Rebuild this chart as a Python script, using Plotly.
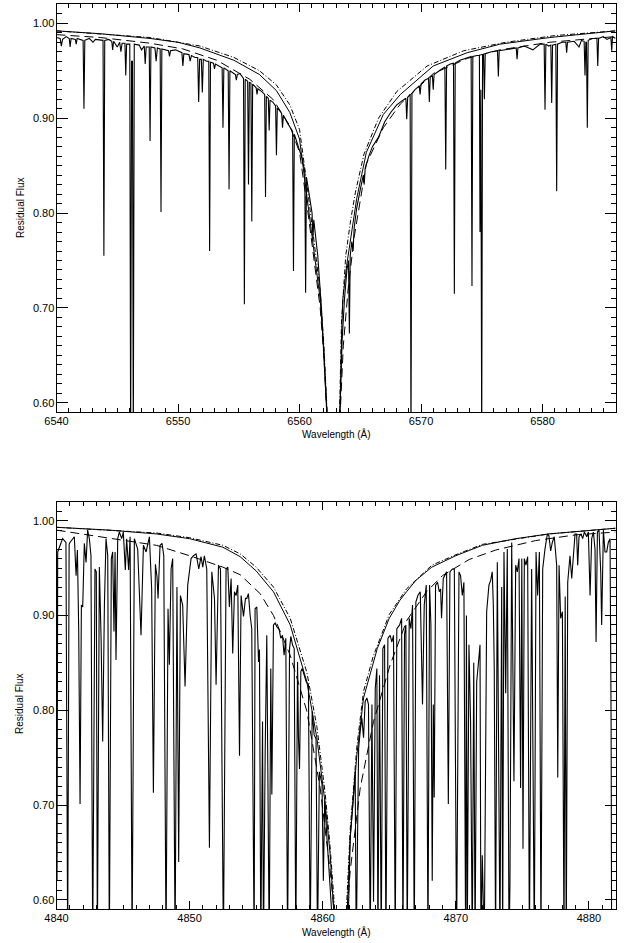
import plotly.graph_objects as go

# ---------------- H-alpha panel data ----------------
ha_obs = [
    (6540.00, 0.985), (6540.30, 0.984), (6540.40, 0.976), (6540.50, 0.983), (6540.80, 0.986),
    (6541.05, 0.984), (6541.12, 0.975), (6541.20, 0.984), (6541.55, 0.983), (6541.62, 0.978),
    (6541.70, 0.984), (6542.05, 0.983), (6542.19, 0.982), (6542.26, 0.910), (6542.33, 0.982),
    (6542.70, 0.984), (6543.00, 0.980), (6543.20, 0.983), (6543.83, 0.982), (6543.90, 0.755),
    (6543.97, 0.982), (6544.30, 0.983), (6544.55, 0.981), (6544.62, 0.972), (6544.70, 0.981),
    (6545.00, 0.975), (6545.20, 0.980), (6545.30, 0.970), (6545.40, 0.979), (6545.63, 0.979),
    (6545.70, 0.945), (6545.77, 0.978), (6546.03, 0.978), (6546.10, 0.550), (6546.18, 0.960),
    (6546.25, 0.960), (6546.32, 0.550), (6546.40, 0.978), (6546.80, 0.977), (6547.00, 0.972),
    (6547.22, 0.976), (6547.30, 0.957), (6547.38, 0.975), (6547.63, 0.975), (6547.70, 0.876),
    (6547.77, 0.975), (6548.10, 0.974), (6548.20, 0.960), (6548.30, 0.974), (6548.53, 0.973),
    (6548.60, 0.801), (6548.67, 0.973), (6549.00, 0.972), (6549.22, 0.971), (6549.30, 0.965),
    (6549.38, 0.971), (6549.80, 0.972), (6550.32, 0.969), (6550.40, 0.955), (6550.48, 0.968),
    (6550.90, 0.967), (6551.00, 0.960), (6551.10, 0.966), (6551.40, 0.964), (6551.62, 0.964),
    (6551.70, 0.917), (6551.78, 0.962), (6551.92, 0.962), (6552.00, 0.927), (6552.08, 0.962),
    (6552.35, 0.960), (6552.53, 0.960), (6552.60, 0.760), (6552.67, 0.959), (6552.92, 0.958),
    (6553.00, 0.952), (6553.08, 0.957), (6553.40, 0.955), (6553.63, 0.953), (6553.70, 0.890),
    (6553.77, 0.953), (6554.00, 0.951), (6554.13, 0.950), (6554.20, 0.825), (6554.27, 0.950),
    (6554.72, 0.946), (6554.80, 0.940), (6554.88, 0.946), (6555.10, 0.947), (6555.39, 0.942),
    (6555.46, 0.704), (6555.53, 0.941), (6555.73, 0.939), (6555.80, 0.830), (6555.87, 0.938),
    (6556.00, 0.937), (6556.07, 0.791), (6556.14, 0.936), (6556.43, 0.932), (6556.50, 0.925),
    (6556.57, 0.931), (6556.90, 0.928), (6557.13, 0.925), (6557.20, 0.817), (6557.27, 0.923),
    (6557.43, 0.921), (6557.50, 0.887), (6557.57, 0.919), (6557.80, 0.917), (6558.03, 0.913),
    (6558.10, 0.861), (6558.17, 0.911), (6558.53, 0.905), (6558.60, 0.890), (6558.67, 0.903),
    (6559.00, 0.895), (6559.43, 0.886), (6559.50, 0.739), (6559.57, 0.883), (6559.90, 0.870),
    (6560.20, 0.858), (6560.43, 0.844), (6560.50, 0.716), (6560.57, 0.838), (6560.80, 0.820),
    (6561.03, 0.800), (6561.10, 0.773), (6561.17, 0.793), (6561.50, 0.755), (6561.80, 0.700),
    (6562.00, 0.650), (6562.25, 0.580), (6562.40, 0.550), (6562.80, 0.450), (6563.20, 0.550),
    (6563.30, 0.580), (6563.50, 0.665), (6563.70, 0.710), (6563.90, 0.740), (6564.03, 0.750),
    (6564.10, 0.673), (6564.17, 0.755), (6564.30, 0.770), (6564.40, 0.760), (6564.50, 0.785),
    (6564.70, 0.805), (6565.00, 0.825), (6565.25, 0.840), (6565.32, 0.830), (6565.40, 0.847),
    (6565.70, 0.860), (6566.00, 0.870), (6566.50, 0.880), (6567.00, 0.896), (6567.50, 0.906),
    (6568.00, 0.914), (6568.40, 0.918), (6568.75, 0.921), (6568.82, 0.899), (6568.90, 0.922),
    (6569.10, 0.925), (6569.17, 0.550), (6569.25, 0.926), (6569.50, 0.930), (6569.85, 0.934),
    (6569.92, 0.925), (6570.00, 0.936), (6570.30, 0.940), (6570.61, 0.942), (6570.68, 0.917),
    (6570.75, 0.943), (6570.93, 0.945), (6571.00, 0.930), (6571.07, 0.946), (6571.50, 0.950),
    (6571.96, 0.954), (6572.03, 0.846), (6572.10, 0.955), (6572.40, 0.957), (6572.67, 0.958),
    (6572.74, 0.715), (6572.81, 0.958), (6573.20, 0.961), (6573.60, 0.963), (6574.12, 0.965),
    (6574.19, 0.723), (6574.26, 0.965), (6574.60, 0.966), (6574.80, 0.966), (6574.85, 0.780),
    (6574.92, 0.930), (6574.99, 0.550), (6575.06, 0.967), (6575.14, 0.967), (6575.21, 0.920),
    (6575.28, 0.968), (6575.80, 0.970), (6576.29, 0.971), (6576.36, 0.944), (6576.43, 0.971),
    (6577.00, 0.972), (6577.83, 0.974), (6577.90, 0.962), (6577.97, 0.974), (6578.50, 0.976),
    (6579.20, 0.972), (6579.80, 0.978), (6580.13, 0.978), (6580.20, 0.909), (6580.27, 0.978),
    (6580.50, 0.976), (6580.68, 0.977), (6580.75, 0.916), (6580.82, 0.977), (6581.09, 0.978),
    (6581.16, 0.823), (6581.23, 0.978), (6581.60, 0.980), (6581.91, 0.980), (6581.98, 0.969),
    (6582.05, 0.980), (6582.60, 0.981), (6583.00, 0.975), (6583.20, 0.982), (6583.42, 0.981),
    (6583.49, 0.945), (6583.56, 0.980), (6583.61, 0.980), (6583.68, 0.890), (6583.75, 0.982),
    (6584.10, 0.984), (6584.47, 0.984), (6584.54, 0.955), (6584.61, 0.984), (6585.00, 0.986),
    (6585.30, 0.983), (6585.62, 0.985), (6585.69, 0.971), (6585.76, 0.986), (6586.00, 0.984),
]

ha_solid_wave = [6540, 6543.6, 6547.7, 6550, 6551.8, 6553.5, 6554.6, 6556.7, 6558.1, 6559.2,
                 6560.0, 6560.6, 6561.2, 6561.7, 6562.0, 6562.2, 6562.4, 6562.8, 6563.15, 6563.33,
                 6563.47, 6563.56, 6563.88, 6564.3, 6564.7, 6565.5, 6566.9, 6568.3, 6571.0,
                 6573.8, 6576.5, 6580.6, 6583.5, 6586]
ha_solid_flux = [0.992, 0.989, 0.984, 0.980, 0.974, 0.966, 0.961, 0.946, 0.929, 0.906,
                 0.878, 0.818, 0.760, 0.709, 0.655, 0.605, 0.550, 0.450, 0.550, 0.590,
                 0.675, 0.709, 0.745, 0.780, 0.815, 0.864, 0.904, 0.925, 0.955,
                 0.969, 0.978, 0.985, 0.989, 0.992]

ha_dash_wave = [6540, 6543.6, 6547.7, 6550.4, 6553.2, 6555.9, 6557.8, 6559.2, 6560.0, 6560.6,
                6561.2, 6561.7, 6562.0, 6562.2, 6562.4, 6562.8, 6563.15, 6563.35, 6563.6, 6564.0,
                6564.5, 6565.5, 6566.9, 6568.3, 6571.0, 6573.8, 6576.5, 6580.6, 6586]
ha_dash_flux = [0.988, 0.985, 0.979, 0.973, 0.961, 0.941, 0.920, 0.892, 0.864, 0.810,
                0.750, 0.700, 0.650, 0.600, 0.550, 0.450, 0.550, 0.590, 0.660, 0.720,
                0.775, 0.852, 0.890, 0.915, 0.947, 0.963, 0.972, 0.980, 0.986]

ha_dot_wave = [6540, 6547.7, 6551.8, 6554.6, 6556.7, 6558.1, 6559.2, 6560.0, 6560.6, 6561.2,
               6561.7, 6562.0, 6562.22, 6562.42, 6562.8, 6563.12, 6563.3, 6563.45, 6563.8, 6564.2,
               6564.6, 6565.3, 6566.5, 6568.0, 6570.5, 6573.5, 6577, 6581, 6586]
ha_dot_flux = [0.992, 0.985, 0.976, 0.964, 0.950, 0.935, 0.914, 0.888, 0.831, 0.772,
               0.718, 0.662, 0.600, 0.550, 0.450, 0.550, 0.595, 0.685, 0.755, 0.792,
               0.822, 0.862, 0.900, 0.928, 0.955, 0.971, 0.980, 0.987, 0.992]

# ---------------- H-beta panel data ----------------
hb_obs = [
    (4840.00, 0.965), (4840.04, 0.620), (4840.09, 0.967), (4840.30, 0.975), (4840.46, 0.981),
    (4840.71, 0.977), (4840.84, 0.550), (4840.95, 0.975), (4841.01, 0.977), (4841.34, 0.983),
    (4841.47, 0.942), (4841.57, 0.969), (4841.67, 0.883), (4841.77, 0.701), (4841.87, 0.911),
    (4841.97, 0.909), (4842.09, 0.976), (4842.22, 0.956), (4842.34, 0.990), (4842.47, 0.981),
    (4842.59, 0.963), (4842.72, 0.550), (4842.89, 0.949), (4842.99, 0.946), (4843.07, 0.550),
    (4843.22, 0.951), (4843.35, 0.876), (4843.47, 0.767), (4843.60, 0.911), (4843.72, 0.981),
    (4843.85, 0.963), (4843.97, 0.550), (4844.12, 0.960), (4844.22, 0.967), (4844.32, 0.883),
    (4844.40, 0.967), (4844.47, 0.853), (4844.60, 0.981), (4844.72, 0.988), (4844.90, 0.981),
    (4845.02, 0.988), (4845.17, 0.948), (4845.27, 0.981), (4845.42, 0.948), (4845.53, 0.983),
    (4845.68, 0.550), (4845.85, 0.981), (4846.10, 0.970), (4846.35, 0.879), (4846.53, 0.974),
    (4846.73, 0.967), (4846.98, 0.983), (4847.15, 0.928), (4847.28, 0.713), (4847.43, 0.954),
    (4847.55, 0.941), (4847.63, 0.918), (4847.78, 0.974), (4847.93, 0.976), (4848.06, 0.963),
    (4848.23, 0.550), (4848.38, 0.907), (4848.48, 0.848), (4848.61, 0.949), (4848.73, 0.960),
    (4848.91, 0.550), (4849.05, 0.930), (4849.18, 0.640), (4849.31, 0.921), (4849.48, 0.911),
    (4849.66, 0.825), (4849.86, 0.932), (4850.11, 0.960), (4850.29, 0.963), (4850.49, 0.965),
    (4850.69, 0.949), (4850.86, 0.962), (4850.99, 0.951), (4851.11, 0.963), (4851.29, 0.949),
    (4851.49, 0.655), (4851.67, 0.946), (4851.87, 0.918), (4851.99, 0.827), (4852.17, 0.953),
    (4852.32, 0.949), (4852.54, 0.550), (4852.74, 0.949), (4852.87, 0.951), (4852.99, 0.909),
    (4853.12, 0.939), (4853.24, 0.860), (4853.37, 0.925), (4853.49, 0.921), (4853.62, 0.932),
    (4853.75, 0.752), (4853.87, 0.921), (4854.05, 0.899), (4854.20, 0.918), (4854.30, 0.918),
    (4854.42, 0.923), (4854.55, 0.900), (4854.67, 0.886), (4854.85, 0.550), (4854.92, 0.907),
    (4855.05, 0.909), (4855.18, 0.851), (4855.25, 0.864), (4855.35, 0.550), (4855.48, 0.788),
    (4855.55, 0.550), (4855.68, 0.757), (4855.80, 0.879), (4855.98, 0.550), (4856.10, 0.844),
    (4856.18, 0.711), (4856.30, 0.890), (4856.43, 0.892), (4856.55, 0.888), (4856.73, 0.885),
    (4856.85, 0.876), (4856.98, 0.879), (4857.10, 0.858), (4857.23, 0.876), (4857.36, 0.550),
    (4857.51, 0.865), (4857.61, 0.878), (4857.73, 0.869), (4857.86, 0.865), (4857.98, 0.550),
    (4858.11, 0.851), (4858.18, 0.771), (4858.26, 0.738), (4858.36, 0.841), (4858.46, 0.844),
    (4858.61, 0.837), (4858.76, 0.830), (4858.93, 0.827), (4859.06, 0.550), (4859.21, 0.799),
    (4859.36, 0.774), (4859.50, 0.770), (4859.61, 0.550), (4859.75, 0.735), (4859.95, 0.722),
    (4860.05, 0.620), (4860.15, 0.705), (4860.30, 0.670), (4860.50, 0.620), (4860.70, 0.575),
    (4860.80, 0.550), (4861.30, 0.450), (4861.87, 0.550), (4862.07, 0.666), (4862.32, 0.711),
    (4862.44, 0.736), (4862.52, 0.550), (4862.70, 0.760), (4862.82, 0.778), (4862.94, 0.792),
    (4863.07, 0.771), (4863.19, 0.809), (4863.32, 0.813), (4863.44, 0.806), (4863.57, 0.550),
    (4863.70, 0.806), (4863.82, 0.598), (4863.95, 0.823), (4864.07, 0.844), (4864.15, 0.550),
    (4864.27, 0.837), (4864.40, 0.550), (4864.52, 0.865), (4864.65, 0.869), (4864.75, 0.550),
    (4864.90, 0.876), (4865.07, 0.879), (4865.20, 0.872), (4865.32, 0.879), (4865.45, 0.550),
    (4865.57, 0.886), (4865.78, 0.890), (4865.93, 0.897), (4866.03, 0.550), (4866.15, 0.880),
    (4866.25, 0.890), (4866.35, 0.550), (4866.50, 0.897), (4866.63, 0.886), (4866.75, 0.911),
    (4866.88, 0.550), (4867.00, 0.914), (4867.15, 0.921), (4867.33, 0.925), (4867.50, 0.806),
    (4867.63, 0.911), (4867.78, 0.932), (4867.91, 0.550), (4868.03, 0.932), (4868.13, 0.890),
    (4868.23, 0.620), (4868.31, 0.806), (4868.38, 0.708), (4868.48, 0.932), (4868.63, 0.935),
    (4868.76, 0.925), (4868.86, 0.928), (4868.93, 0.897), (4869.06, 0.939), (4869.18, 0.942),
    (4869.31, 0.946), (4869.44, 0.701), (4869.56, 0.946), (4869.74, 0.949), (4869.89, 0.949),
    (4870.06, 0.550), (4870.24, 0.946), (4870.36, 0.942), (4870.49, 0.921), (4870.61, 0.935),
    (4870.74, 0.550), (4870.80, 0.900), (4870.86, 0.550), (4870.99, 0.869), (4871.11, 0.788),
    (4871.24, 0.550), (4871.35, 0.850), (4871.45, 0.550), (4871.57, 0.830), (4871.69, 0.848),
    (4871.82, 0.869), (4871.89, 0.550), (4871.99, 0.647), (4872.14, 0.550), (4872.32, 0.904),
    (4872.49, 0.932), (4872.62, 0.937), (4872.74, 0.946), (4872.82, 0.911), (4872.89, 0.844),
    (4872.99, 0.550), (4873.12, 0.956), (4873.24, 0.718), (4873.32, 0.550), (4873.45, 0.930),
    (4873.52, 0.550), (4873.62, 0.967), (4873.75, 0.818), (4873.87, 0.970), (4874.00, 0.550),
    (4874.07, 0.617), (4874.20, 0.977), (4874.37, 0.725), (4874.50, 0.953), (4874.62, 0.946),
    (4874.75, 0.960), (4874.87, 0.718), (4874.96, 0.960), (4875.05, 0.654), (4875.15, 0.960),
    (4875.27, 0.953), (4875.40, 0.962), (4875.53, 0.550), (4875.70, 0.949), (4875.90, 0.550),
    (4876.03, 0.967), (4876.15, 0.921), (4876.28, 0.967), (4876.40, 0.550), (4876.53, 0.949),
    (4876.70, 0.970), (4876.88, 0.986), (4877.00, 0.984), (4877.13, 0.968), (4877.25, 0.977),
    (4877.40, 0.983), (4877.58, 0.953), (4877.66, 0.729), (4877.76, 0.953), (4877.88, 0.897),
    (4878.01, 0.904), (4878.13, 0.550), (4878.22, 0.920), (4878.30, 0.550), (4878.41, 0.935),
    (4878.58, 0.963), (4878.71, 0.939), (4878.83, 0.967), (4878.96, 0.986), (4879.08, 0.986),
    (4879.16, 0.953), (4879.26, 0.983), (4879.41, 0.986), (4879.53, 0.981), (4879.66, 0.988),
    (4879.84, 0.983), (4879.96, 0.988), (4880.09, 0.921), (4880.21, 0.981), (4880.34, 0.988),
    (4880.46, 0.970), (4880.54, 0.872), (4880.64, 0.988), (4880.76, 0.990), (4880.89, 0.946),
    (4880.96, 0.890), (4881.09, 0.990), (4881.21, 0.967), (4881.34, 0.967), (4881.46, 0.977),
    (4881.59, 0.981), (4881.67, 0.785), (4881.71, 0.550),
]

hb_solid_wave = [4840, 4844, 4847.5, 4850, 4852.5, 4853.8, 4855, 4856.3, 4857.56, 4858.81,
                 4859.56, 4860.19, 4860.56, 4860.85, 4861.0, 4861.3, 4861.7, 4861.85, 4862.07,
                 4862.57, 4863.07, 4863.8, 4864.1, 4865.0, 4865.8, 4866.3, 4867.0, 4868.2,
                 4870, 4872, 4874.5, 4877, 4880, 4882]
hb_solid_flux = [0.993, 0.990, 0.986, 0.981, 0.972, 0.962, 0.947, 0.925, 0.890, 0.830,
                 0.771, 0.701, 0.648, 0.590, 0.550, 0.450, 0.550, 0.590, 0.666,
                 0.753, 0.813, 0.851, 0.865, 0.897, 0.916, 0.925, 0.937, 0.951,
                 0.963, 0.974, 0.981, 0.986, 0.990, 0.992]

hb_dash_wave = [4840, 4845, 4847.5, 4850, 4852.5, 4853.8, 4855.3, 4856.3, 4857.56, 4858.81,
                4859.81, 4860.56, 4860.85, 4861.0, 4861.3, 4861.7, 4861.85, 4862.07, 4862.82,
                4863.82, 4865.07, 4866.33, 4867.8, 4869, 4871, 4873, 4876, 4879, 4882]
hb_dash_flux = [0.990, 0.979, 0.974, 0.963, 0.951, 0.943, 0.923, 0.900, 0.858, 0.799,
                0.718, 0.631, 0.590, 0.550, 0.450, 0.550, 0.590, 0.631, 0.718,
                0.788, 0.848, 0.895, 0.925, 0.942, 0.959, 0.969, 0.979, 0.985, 0.988]

hb_dot_wave = [4840, 4847.5, 4850, 4852.5, 4853.8, 4855, 4856.3, 4857.56, 4858.81, 4859.56,
               4860.19, 4860.56, 4860.9, 4861.05, 4861.3, 4861.65, 4861.8, 4862.07, 4862.57,
               4863.07, 4863.8, 4865, 4866.3, 4868.2, 4870, 4872, 4877, 4882]
hb_dot_flux = [0.993, 0.987, 0.982, 0.974, 0.965, 0.951, 0.930, 0.897, 0.840, 0.783,
               0.712, 0.656, 0.590, 0.550, 0.450, 0.550, 0.590, 0.675, 0.762,
               0.820, 0.857, 0.901, 0.928, 0.953, 0.964, 0.975, 0.986, 0.992]

x_ticks_ha = [6540, 6550, 6560, 6570, 6580]
x_ticks_hb = [4840, 4850, 4860, 4870, 4880]
y_ticks = [0.60, 0.70, 0.80, 0.90, 1.00]

# ---------------- figure ----------------
W, H = 624, 943
FONT = "Liberation Sans, Arial, Helvetica, sans-serif"


def px(xp):                  # window x pixel -> paper fraction
    return xp / W


def py(yp):                  # window y pixel (from top) -> paper fraction
    return (H - yp) / H


fig = go.Figure()


def add_panel(obs, solid, dash, dot, xa, ya):
    fig.add_trace(go.Scatter(x=[p[0] for p in obs], y=[p[1] for p in obs], mode="lines",
                             line=dict(color="black", width=1.1), xaxis=xa, yaxis=ya,
                             showlegend=False, hoverinfo="skip"))
    fig.add_trace(go.Scatter(x=solid[0], y=solid[1], mode="lines",
                             line=dict(color="black", width=1), xaxis=xa, yaxis=ya,
                             showlegend=False, hoverinfo="skip"))
    fig.add_trace(go.Scatter(x=dash[0], y=dash[1], mode="lines",
                             line=dict(color="black", width=1, dash="9px,5px"), xaxis=xa, yaxis=ya,
                             showlegend=False, hoverinfo="skip"))
    fig.add_trace(go.Scatter(x=dot[0], y=dot[1], mode="lines",
                             line=dict(color="black", width=1, dash="5px,2px,1px,2px"), xaxis=xa, yaxis=ya,
                             showlegend=False, hoverinfo="skip"))


add_panel(ha_obs, (ha_solid_wave, ha_solid_flux), (ha_dash_wave, ha_dash_flux),
          (ha_dot_wave, ha_dot_flux), "x", "y")
add_panel(hb_obs, (hb_solid_wave, hb_solid_flux), (hb_dash_wave, hb_dash_flux),
          (hb_dot_wave, hb_dot_flux), "x2", "y2")

xdom = [px(56.5), px(615.5)]
top_dom = [py(412.3), py(4.3)]
bot_dom = [py(909.3), py(501.7)]

xcommon = dict(showgrid=False, zeroline=False, showline=True, linecolor="black", linewidth=1,
               mirror="allticks", ticks="inside", ticklen=8, tickwidth=1, tickcolor="black",
               tickfont=dict(family=FONT, size=11, color="black"),
               tickmode="linear", dtick=10, automargin=False, ticklabelstandoff=-2,
               minor=dict(ticks="inside", ticklen=4, tickwidth=1, tickcolor="black", dtick=1,
                          showgrid=False),
               domain=xdom, fixedrange=True)
ycommon = dict(showgrid=False, zeroline=False, showline=True, linecolor="black", linewidth=1,
               mirror="allticks", ticks="inside", ticklen=11, tickwidth=1, tickcolor="black",
               tickfont=dict(family=FONT, size=11, color="black"),
               tickmode="linear", tick0=y_ticks[0], dtick=0.1, tickformat=".2f",
               automargin=False, ticklabelstandoff=-1,
               minor=dict(ticks="inside", ticklen=5, tickwidth=1, tickcolor="black", dtick=0.01,
                          showgrid=False),
               range=[0.59, 1.02], fixedrange=True)

fig.update_layout(
    template="none",
    width=W, height=H, margin=dict(l=0, r=0, t=0, b=0),
    paper_bgcolor="white", plot_bgcolor="white",
    xaxis=dict(**xcommon, range=[6540, 6586], tick0=x_ticks_ha[0], anchor="y"),
    yaxis=dict(**ycommon, domain=top_dom, anchor="x"),
    xaxis2=dict(**xcommon, range=[4840, 4882], tick0=x_ticks_hb[0], anchor="y2"),
    yaxis2=dict(**ycommon, domain=bot_dom, anchor="x2"),
)

label_font = dict(family=FONT, size=10, color="black")
for ypix in (434, 932):
    fig.add_annotation(text="Wavelength (Å)", x=px(336), y=py(ypix), xref="paper",
                       yref="paper", showarrow=False, font=label_font,
                       xanchor="center", yanchor="middle")
for ypix in (208, 704):
    fig.add_annotation(text="Residual Flux", x=px(20), y=py(ypix), xref="paper",
                       yref="paper", showarrow=False, font=label_font, textangle=-90,
                       xanchor="center", yanchor="middle")

fig.write_html("out.html", config={"staticPlot": True},
               post_script="document.body.style.margin='0px';document.body.style.overflow='hidden';")
